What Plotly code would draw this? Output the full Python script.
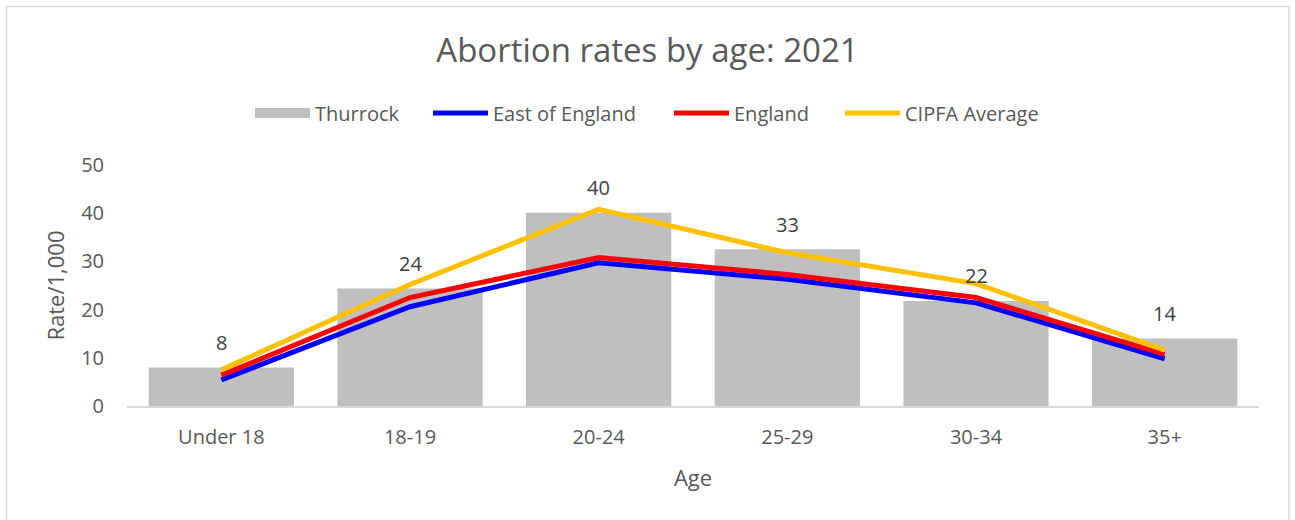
import plotly.graph_objects as go

categories = ["Under 18", "18-19", "20-24", "25-29", "30-34", "35+"]
thurrock = [8.0, 24.4, 40.1, 32.5, 21.8, 14.0]
thurrock_labels = ["8", "24", "40", "33", "22", "14"]
east_of_england = [5.4, 20.6, 29.7, 26.3, 21.4, 9.8]
england = [6.4, 22.5, 30.8, 27.3, 22.5, 10.7]
cipfa_average = [7.5, 25.2, 40.8, 31.8, 25.4, 11.6]

FONT = "Open Sans"
GREY_TEXT = "#595959"
BAR_COLOR = "#BFBFBF"

W, H = 1295, 520
L, R, T, B = 127, 36, 165, 114
PW = W - L - R
PH = H - T - B


def px_x(p):
    return (p - L) / PW


def px_y(p):
    return (H - B - p) / PH


fig = go.Figure()
fig.add_trace(go.Bar(x=categories, y=thurrock, name="Thurrock", showlegend=False,
                     marker=dict(color=BAR_COLOR, line=dict(width=0))))
# legend entry for the bars, drawn as a wide grey swatch like the original
fig.add_trace(go.Scatter(x=[None], y=[None], name="Thurrock", legend="legend",
                         mode="lines", line=dict(color=BAR_COLOR, width=12),
                         hoverinfo="skip"))
fig.add_trace(go.Scatter(x=categories, y=east_of_england, name="East of England",
                         legend="legend2", mode="lines",
                         line=dict(color="#0000FF", width=5)))
fig.add_trace(go.Scatter(x=categories, y=england, name="England", legend="legend3",
                         mode="lines", line=dict(color="#FF0000", width=5)))
fig.add_trace(go.Scatter(x=categories, y=cipfa_average, name="CIPFA Average",
                         legend="legend4", mode="lines",
                         line=dict(color="#FFC000", width=5)))

for c, v, t in zip(categories, thurrock, thurrock_labels):
    fig.add_annotation(x=c, y=v, text=t, showarrow=False, yshift=25,
                       font=dict(family=FONT, size=20, color="#404040"))

fig.add_shape(type="rect", xref="paper", yref="paper",
              x0=px_x(6.5), x1=px_x(1289), y0=px_y(522), y1=px_y(6.5),
              line=dict(color="#D9D9D9", width=1.5), fillcolor="rgba(0,0,0,0)",
              layer="below")


def leg(x_px, iw):
    return dict(orientation="h", x=px_x(x_px), xanchor="left", y=px_y(113),
                yanchor="middle", font=dict(family=FONT, size=20, color=GREY_TEXT),
                itemwidth=iw, bgcolor="rgba(0,0,0,0)", borderwidth=0)


fig.update_layout(
    width=W, height=H,
    margin=dict(l=L, r=R, t=T, b=B),
    paper_bgcolor="white", plot_bgcolor="white",
    font=dict(family=FONT, color=GREY_TEXT, size=20),
    title=dict(text="Abortion rates by age: 2021", x=0.5, xanchor="center",
               xref="container", y=1 - 50 / H, yanchor="middle",
               font=dict(family=FONT, size=33, color=GREY_TEXT)),
    legend=leg(250, 55),
    legend2=leg(428, 55),
    legend3=leg(669, 55),
    legend4=leg(840, 55),
    bargap=0.23,
    showlegend=True,
)
fig.update_xaxes(title=dict(text="Age", font=dict(size=22, color=GREY_TEXT), standoff=22),
                 showline=True, linecolor="#D9D9D9", linewidth=1.5,
                 showgrid=False, ticks="", ticklabelstandoff=12,
                 tickfont=dict(size=20, color=GREY_TEXT))
fig.update_yaxes(title=dict(text="Rate/1,000", font=dict(size=22, color=GREY_TEXT), standoff=10),
                 range=[0, 50], dtick=10, showgrid=False, zeroline=False,
                 showline=False, ticks="", ticklabelstandoff=22,
                 tickfont=dict(size=20, color=GREY_TEXT))

fig.write_html("out.html", config={"displayModeBar": False},
               post_script="document.body.style.margin='0px';")
